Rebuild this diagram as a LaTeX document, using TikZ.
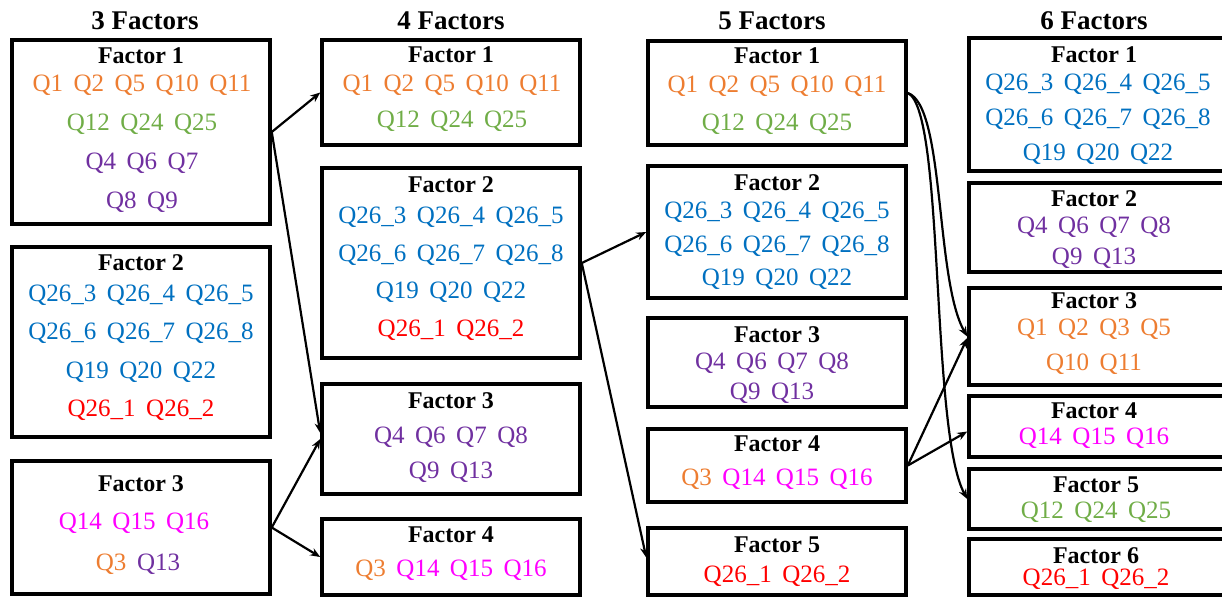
\documentclass[tikz,border=0pt]{standalone}
\usepackage{fontspec}
\setmainfont{Liberation Serif}
\usepackage{xcolor}
\usepackage{tikz}
\usetikzlibrary{fit,arrows.meta}

\definecolor{qorange}{HTML}{ED7D31}
\definecolor{qgreen}{HTML}{70AD47}
\definecolor{qpurple}{HTML}{7030A0}
\definecolor{qblue}{HTML}{0070C0}
\definecolor{qred}{HTML}{FF0000}
\definecolor{qpink}{HTML}{FF00FF}
\newcommand{\qsep}{\hspace{10.5pt}}
\newcommand{\qsize}[1]{\fontsize{25}{#1}\selectfont}

\begin{document}
\begin{tikzpicture}[x=1pt,y=-1pt,
	box/.style={draw,line width=3.5pt,inner sep=0pt},
	colhead/.style={anchor=base,font=\fontsize{27}{32}\selectfont\bfseries},
	fhead/.style={anchor=base,font=\fontsize{24}{28}\selectfont\bfseries},
	qtext/.style={anchor=base,align=center,inner sep=0pt},
	link/.style={-{Stealth[length=10pt,width=8pt]},line width=2.2pt}]
	\useasboundingbox (0,0) rectangle (1222,598);

	\node[colhead] (h3) at (145,29) {3 Factors};
	\node[colhead] (h4) at (451,29) {4 Factors};
	\node[colhead] (h5) at (772,29) {5 Factors};
	\node[colhead] (h6) at (1094,29) {6 Factors};

	% 3 factors (text nodes sit on the baseline of their last line)
	\node[box,fit={(12,40) (270,224)}] (a1) {};
	\node[fhead] (a1h) at (141,63) {Factor 1};
	\node[qtext,font=\qsize{39}] (a1q) at (142,208.5) {\textcolor{qorange}{Q1\qsep Q2\qsep Q5\qsep Q10\qsep Q11}\\
		\textcolor{qgreen}{Q12\qsep Q24\qsep Q25}\\ \textcolor{qpurple}{Q4\qsep Q6\qsep Q7}\\ \textcolor{qpurple}{Q8\qsep Q9}};
	\node[box,fit={(12,247) (270,437)}] (a2) {};
	\node[fhead] (a2h) at (141,270) {Factor 2};
	\node[qtext,font=\qsize{38.3}] (a2q) at (141,416.4) {\textcolor{qblue}{Q26\_3\qsep Q26\_4\qsep Q26\_5}\\
		\textcolor{qblue}{Q26\_6\qsep Q26\_7\qsep Q26\_8}\\ \textcolor{qblue}{Q19\qsep Q20\qsep Q22}\\ \textcolor{qred}{Q26\_1\qsep Q26\_2}};
	\node[box,fit={(12,461) (270,594)}] (a3) {};
	\node[fhead] (a3h) at (141,491) {Factor 3};
	\node[qtext,font=\qsize{41}] (a3q) at (134,570.5) {\textcolor{qpink}{Q14\qsep Q15\qsep Q16}\\
		\hspace{8pt}\textcolor{qorange}{Q3}\qsep\textcolor{qpurple}{Q13}};

	% 4 factors
	\node[box,fit={(322,40) (580,145)}] (b1) {};
	\node[fhead] (b1h) at (451,62) {Factor 1};
	\node[qtext,font=\qsize{36}] (b1q) at (452,127.5) {\textcolor{qorange}{Q1\qsep Q2\qsep Q5\qsep Q10\qsep Q11}\\
		\textcolor{qgreen}{Q12\qsep Q24\qsep Q25}};
	\node[box,fit={(322,168) (580,358)}] (b2) {};
	\node[fhead] (b2h) at (451,192) {Factor 2};
	\node[qtext,font=\qsize{37.7}] (b2q) at (451,336.6) {\textcolor{qblue}{Q26\_3\qsep Q26\_4\qsep Q26\_5}\\
		\textcolor{qblue}{Q26\_6\qsep Q26\_7\qsep Q26\_8}\\ \textcolor{qblue}{Q19\qsep Q20\qsep Q22}\\ \textcolor{qred}{Q26\_1\qsep Q26\_2}};
	\node[box,fit={(322,384) (580,494)}] (b3) {};
	\node[fhead] (b3h) at (451,408) {Factor 3};
	\node[qtext,font=\qsize{35}] (b3q) at (451,478.5) {\textcolor{qpurple}{Q4\qsep Q6\qsep Q7\qsep Q8}\\
		\textcolor{qpurple}{Q9\qsep Q13}};
	\node[box,fit={(322,519) (580,595)}] (b4) {};
	\node[fhead] (b4h) at (451,542) {Factor 4};
	\node[qtext,font=\qsize{30}] (b4q) at (451,576.5) {\textcolor{qorange}{Q3}\qsep\textcolor{qpink}{Q14\qsep Q15\qsep Q16}};

	% 5 factors
	\node[box,fit={(648,41) (906,145)}] (c1) {};
	\node[fhead] (c1h) at (777,63) {Factor 1};
	\node[qtext,font=\qsize{38}] (c1q) at (777,130.5) {\textcolor{qorange}{Q1\qsep Q2\qsep Q5\qsep Q10\qsep Q11}\\
		\textcolor{qgreen}{Q12\qsep Q24\qsep Q25}};
	\node[box,fit={(648,166) (906,298)}] (c2) {};
	\node[fhead] (c2h) at (777,190) {Factor 2};
	\node[qtext,font=\qsize{33.5}] (c2q) at (777,285.5) {\textcolor{qblue}{Q26\_3\qsep Q26\_4\qsep Q26\_5}\\
		\textcolor{qblue}{Q26\_6\qsep Q26\_7\qsep Q26\_8}\\ \textcolor{qblue}{Q19\qsep Q20\qsep Q22}};
	\node[box,fit={(648,318) (906,407)}] (c3) {};
	\node[fhead] (c3h) at (777,342) {Factor 3};
	\node[qtext,font=\qsize{30}] (c3q) at (772,399.5) {\textcolor{qpurple}{Q4\qsep Q6\qsep Q7\qsep Q8}\\
		\textcolor{qpurple}{Q9\qsep Q13}};
	\node[box,fit={(648,429) (906,502)}] (c4) {};
	\node[fhead] (c4h) at (777,451) {Factor 4};
	\node[qtext,font=\qsize{30}] (c4q) at (777,485.5) {\textcolor{qorange}{Q3}\qsep\textcolor{qpink}{Q14\qsep Q15\qsep Q16}};
	\node[box,fit={(648,528) (906,595)}] (c5) {};
	\node[fhead] (c5h) at (777,552) {Factor 5};
	\node[qtext,font=\qsize{30}] (c5q) at (777,582.5) {\textcolor{qred}{Q26\_1\qsep Q26\_2}};

	% 6 factors
	\node[box,fit={(969,38) (1232,171)}] (d1) {};
	\node[fhead] (d1h) at (1094,62) {Factor 1};
	\node[qtext,font=\qsize{35}] (d1q) at (1098,160.5) {\textcolor{qblue}{Q26\_3\qsep Q26\_4\qsep Q26\_5}\\
		\textcolor{qblue}{Q26\_6\qsep Q26\_7\qsep Q26\_8}\\ \textcolor{qblue}{Q19\qsep Q20\qsep Q22}};
	\node[box,fit={(969,183) (1232,272)}] (d2) {};
	\node[fhead] (d2h) at (1094,206) {Factor 2};
	\node[qtext,font=\qsize{31}] (d2q) at (1094,264.5) {\textcolor{qpurple}{Q4\qsep Q6\qsep Q7\qsep Q8}\\
		\textcolor{qpurple}{Q9\qsep Q13}};
	\node[box,fit={(969,288) (1232,385)}] (d3) {};
	\node[fhead] (d3h) at (1094,308) {Factor 3};
	\node[qtext,font=\qsize{35}] (d3q) at (1094,370.5) {\textcolor{qorange}{Q1\qsep Q2\qsep Q3\qsep Q5}\\
		\textcolor{qorange}{Q10\qsep Q11}};
	\node[box,fit={(969,396) (1232,457)}] (d4) {};
	\node[fhead] (d4h) at (1094,418) {Factor 4};
	\node[qtext,font=\qsize{30}] (d4q) at (1094,444.5) {\textcolor{qpink}{Q14\qsep Q15\qsep Q16}};
	\node[box,fit={(969,469) (1232,529)}] (d5) {};
	\node[fhead] (d5h) at (1096,492) {Factor 5};
	\node[qtext,font=\qsize{30}] (d5q) at (1096,518.5) {\textcolor{qgreen}{Q12\qsep Q24\qsep Q25}};
	\node[box,fit={(969,539) (1232,595)}] (d6) {};
	\node[fhead] (d6h) at (1096,563) {Factor 6};
	\node[qtext,font=\qsize{30}] (d6q) at (1096,585.5) {\textcolor{qred}{Q26\_1\qsep Q26\_2}};

	% links between solutions
	\draw[link] (a1.east) -- (b1.west);
	\draw[link] (a1.east) -- ([yshift=6pt]b3.west);
	\draw[link] (a3.east) -- (b3.west);
	\draw[link] (a3.east) -- (b4.west);
	\draw[link] (b2.east) -- (c2.west);
	\draw[link] (b2.east) -- ([yshift=4pt]c5.west);
	\draw[link] (c1.east) .. controls (945,105) and (935,280) .. (d3.west);
	\draw[link] (c1.east) .. controls (945,110) and (930,430) .. (d5.west);
	\draw[link] (c4.east) -- ([yshift=-1.5pt]d3.west);
	\draw[link] (c4.east) -- ([yshift=-5pt]d4.west);
\end{tikzpicture}
\end{document}
